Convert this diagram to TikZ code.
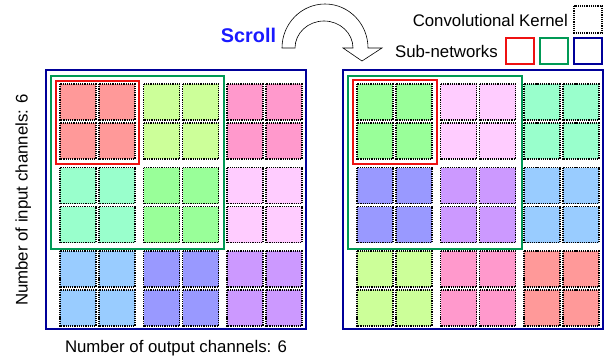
\documentclass[tikz,border=0pt]{standalone}
\usepackage{fontspec}
\setmainfont{Liberation Sans}
\usetikzlibrary{calc}
\definecolor{cellsalmon}{HTML}{FF9999}
\definecolor{cellyellow}{HTML}{CCFF99}
\definecolor{cellpink}{HTML}{FF99CC}
\definecolor{cellaqua}{HTML}{99FFCC}
\definecolor{cellgreen}{HTML}{99FF99}
\definecolor{celllilac}{HTML}{FFCCFF}
\definecolor{cellblue}{HTML}{99CCFF}
\definecolor{cellviolet}{HTML}{9999FF}
\definecolor{cellpurple}{HTML}{CC99FF}
\definecolor{netred}{HTML}{EE1111}
\definecolor{netgreen}{HTML}{009955}
\definecolor{netblue}{HTML}{000099}
\definecolor{scrollblue}{HTML}{1A1AFF}
\tikzset{
	kernel/.style={draw=black, line width=1.2, densely dotted},
	subred/.style={draw=netred, line width=2},
	subgreen/.style={draw=netgreen, line width=2},
	subblue/.style={draw=netblue, line width=2},
	label/.style={inner sep=0, font=\fontsize{16.8bp}{20bp}\selectfont}
}
% one 2x2 group of kernels, top left corner at (#1,#2)
\def\kernelgroup(#1,#2)#3{
	\draw[kernel, fill=#3] (#1,#2) rectangle ++(36,-36);
	\draw[kernel, fill=#3] (#1+39,#2) rectangle ++(36,-36);
	\draw[kernel, fill=#3] (#1,#2-39) rectangle ++(36,-36);
	\draw[kernel, fill=#3] (#1+39,#2-39) rectangle ++(36,-36);
}

\begin{document}
\begin{tikzpicture}[x=1bp, y=1bp]
			%%%%% START %%%%%
			\useasboundingbox (0,0) rectangle (610,358);
			
			% left: before scrolling
			\kernelgroup(60,274){cellsalmon}
			\kernelgroup(143.5,274){cellyellow}
			\kernelgroup(227,274){cellpink}
			
			\kernelgroup(60,190.5){cellaqua}
			\kernelgroup(143.5,190.5){cellgreen}
			\kernelgroup(227,190.5){celllilac}
			
			\kernelgroup(60,107){cellblue}
			\kernelgroup(143.5,107){cellviolet}
			\kernelgroup(227,107){cellpurple}
			
			\draw[subblue] (46,288) rectangle (306,29);
			\draw[subgreen] (51,282) rectangle (224,109);
			\draw[subred] (56,277) rectangle (139,194);
			
			% right: after scrolling
			\kernelgroup(357,274){cellgreen}
			\kernelgroup(440.5,274){celllilac}
			\kernelgroup(524,274){cellaqua}
			
			\kernelgroup(357,190.5){cellviolet}
			\kernelgroup(440.5,190.5){cellpurple}
			\kernelgroup(524,190.5){cellblue}
			
			\kernelgroup(357,107){cellyellow}
			\kernelgroup(440.5,107){cellpink}
			\kernelgroup(524,107){cellsalmon}
			
			\draw[subblue] (343,288) rectangle (603,29);
			\draw[subgreen] (348,282) rectangle (522,109);
			\draw[subred] (353,278) rectangle (437,194);
			
			% axis labels
			\node[label, rotate=90, anchor=base] (inputlabel) at (27.5,158) {Number of input channels: 6};
			\node[label, anchor=base] (outputlabel) at (176,6) {Number of output channels: 6};
			
			% scroll arrow
			\node[inner sep=0, font=\fontsize{19.8bp}{24bp}\selectfont\bfseries, text=scrollblue] (scroll) at (248.5,322.5) {Scroll};
			\draw[fill=white, line width=0.6] (282,310) arc[start angle=180, end angle=0, x radius=43, y radius=44]
				-- (382,310) -- (362,297) -- (343,310) -- (353,310)
				arc[start angle=0, end angle=180, x radius=29, y radius=27] -- cycle;
			
			% legend
			\node[label, anchor=east] (kernellabel) at (568,338) {Convolutional Kernel};
			\draw[kernel] (574,352) rectangle (602,325);
			
			\node[label, anchor=east] (subnetlabel) at (498,307) {Sub-networks};
			\draw[subred] (506,320) rectangle (534,294);
			\draw[subgreen] (540,320) rectangle (568,294);
			\draw[subblue] (574,320) rectangle (602,294);
			
			%%%%% END %%%%%
\end{tikzpicture}
\end{document}
